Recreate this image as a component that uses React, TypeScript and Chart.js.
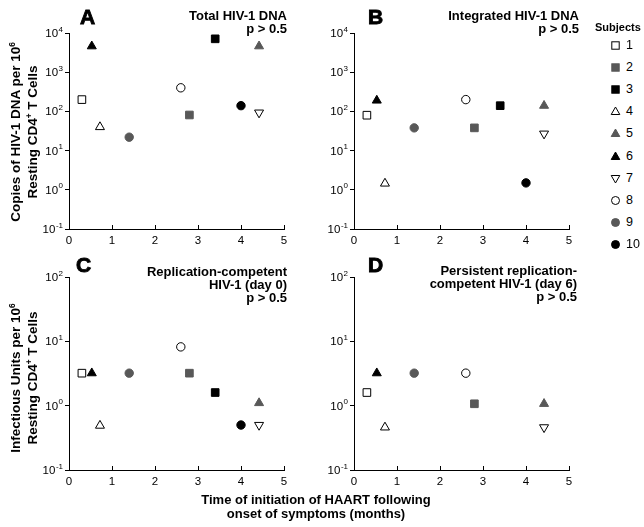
import React, { useEffect, useRef } from "react";
import { Chart, registerables } from "chart.js";

Chart.register(...registerables);

const FONT = "'Liberation Sans', Arial, Helvetica, sans-serif";

// ---- data ----
const subjectIds = ["1", "2", "3", "4", "5", "6", "7", "8", "9", "10"];
const onsetMonths = [0.3, 2.8, 3.4, 0.72, 4.42, 0.53, 4.42, 2.6, 1.4, 4.0];
const totalDna = [200, 81, 7100, 40, 4600, 4600, 93, 400, 22, 140];
const integratedDna = [80, 38, 140, 1.45, 140, 190, 27, 200, 38, 1.5];
const replicationDay0 = [3.2, 3.2, 1.6, 0.49, 1.1, 3.2, 0.5, 8.2, 3.2, 0.5];
const replicationDay6 = [1.6, 1.07, null, 0.46, 1.07, 3.2, 0.46, 3.2, 3.2, null];
const xTickValues = [0, 1, 2, 3, 4, 5];
const dnaDecades = [-1, 0, 1, 2, 3, 4];
const iuDecades = [-1, 0, 1, 2];

// ---- marker styles per subject ----
const GREY = "#585858";
const markerShape = ["rect", "rect", "rect", "triangle", "triangle", "triangle", "triangle", "circle", "circle", "circle"];
const markerRotation = [0, 0, 0, 0, 0, 0, 180, 0, 0, 0];
const markerFill = ["#ffffff", GREY, "#000000", "#ffffff", GREY, "#000000", "#ffffff", "#ffffff", GREY, "#000000"];
const markerStroke = ["#000000", GREY, "#000000", "#000000", GREY, "#000000", "#000000", "#000000", GREY, "#000000"];
const markerRadius = [5.4, 5.4, 5.4, 5.2, 5.2, 5.2, 5.2, 4.2, 4.2, 4.2];

const decadeLabels = {
  id: "decadeLabels",
  afterDraw(chart: any) {
    const ys = chart.scales.y;
    const ctx = chart.ctx;
    const right = chart.chartArea.left - 6;
    ctx.save();
    ctx.fillStyle = "#000";
    ctx.textAlign = "left";
    ctx.textBaseline = "alphabetic";
    ys.ticks.forEach((t: any) => {
      const exp = String(Math.round(Math.log10(t.value)));
      const py = ys.getPixelForValue(t.value);
      ctx.font = `8px ${FONT}`;
      const ew = ctx.measureText(exp).width;
      ctx.font = `11.5px ${FONT}`;
      const bw = ctx.measureText("10").width;
      ctx.fillText("10", right - ew - bw - 0.5, py + 4);
      ctx.font = `8px ${FONT}`;
      ctx.fillText(exp, right - ew, py - 1.5);
    });
    ctx.restore();
  },
};

type Pad = { left: number; top: number; right: number; bottom: number };

function makeConfig(values: (number | null)[], decades: number[], padding: Pad): any {
  const datasets = subjectIds.map((id, i) => ({
    label: id,
    data: values[i] == null ? [] : [{ x: onsetMonths[i], y: values[i] }],
    pointStyle: markerShape[i],
    rotation: markerRotation[i],
    pointRadius: markerRadius[i],
    backgroundColor: markerFill[i],
    borderColor: markerStroke[i],
    borderWidth: 1,
    showLine: false,
  }));
  return {
    type: "scatter",
    data: { datasets },
    options: {
      responsive: false,
      animation: false,
      devicePixelRatio: 1,
      layout: { padding },
      plugins: { legend: { display: false }, tooltip: { enabled: false }, title: { display: false } },
      scales: {
        x: {
          type: "linear",
          min: 0,
          max: 5,
          afterBuildTicks: (s: any) => {
            s.ticks = xTickValues.map((v) => ({ value: v }));
          },
          afterFit: (s: any) => {
            s.height = 20;
          },
          grid: { drawOnChartArea: false, drawTicks: true, tickLength: -4, tickColor: "#000", lineWidth: 1 },
          border: { display: true, color: "#000", width: 1 },
          ticks: { padding: 9, color: "#000", font: { family: FONT, size: 11.5 }, maxRotation: 0, autoSkip: false },
        },
        y: {
          type: "logarithmic",
          min: Math.pow(10, decades[0]),
          max: Math.pow(10, decades[decades.length - 1]),
          afterBuildTicks: (s: any) => {
            s.ticks = decades.map((d) => ({ value: Math.pow(10, d) }));
          },
          afterFit: (s: any) => {
            s.width = 20;
          },
          grid: { drawOnChartArea: false, drawTicks: true, tickLength: 4, tickColor: "#000", lineWidth: 1 },
          border: { display: true, color: "#000", width: 1 },
          ticks: { display: false },
        },
      },
    },
    plugins: [decadeLabels],
  };
}

function Panel(props: { values: (number | null)[]; decades: number[]; left: number; top: number; width: number; height: number; padding: Pad }) {
  const ref = useRef<HTMLCanvasElement | null>(null);
  useEffect(() => {
    if (!ref.current) return;
    const chart = new Chart(ref.current, makeConfig(props.values, props.decades, props.padding));
    return () => chart.destroy();
  }, []);
  return (
    <canvas
      ref={ref}
      width={props.width}
      height={props.height}
      style={{ position: "absolute", left: props.left, top: props.top, width: props.width, height: props.height }}
    />
  );
}

const sup = (t: string) => (
  <span style={{ fontSize: "0.62em", position: "relative", top: "-0.55em" }}>{t}</span>
);

function PanelTitle(props: { right: number; top: number; children: React.ReactNode }) {
  return (
    <div
      style={{
        position: "absolute",
        right: 644 - props.right,
        top: props.top,
        textAlign: "right",
        font: `bold 13px/13px ${FONT}`,
        whiteSpace: "nowrap",
      }}
    >
      {props.children}
    </div>
  );
}

function Letter(props: { left: number; top: number; text: string }) {
  return (
    <div
      style={{
        position: "absolute",
        left: props.left,
        top: props.top,
        font: `bold 21px/21px ${FONT}`,
        WebkitTextStroke: "0.9px #000",
      }}
    >
      {props.text}
    </div>
  );
}

function YTitle(props: { cx: number; cy: number; children: React.ReactNode }) {
  return (
    <div
      style={{
        position: "absolute",
        left: props.cx,
        top: props.cy,
        width: 240,
        textAlign: "center",
        font: `bold 13.5px/15px ${FONT}`,
        whiteSpace: "nowrap",
        transform: "translate(-50%, -50%) rotate(-90deg)",
      }}
    >
      {props.children}
    </div>
  );
}

function LegendMarker(props: { i: number }) {
  const i = props.i;
  const fill = markerFill[i];
  const stroke = markerStroke[i];
  let shape: React.ReactNode;
  if (markerShape[i] === "rect") {
    shape = <rect x={1.8} y={1.8} width={7.4} height={7.4} fill={fill} stroke={stroke} strokeWidth={1} />;
  } else if (markerShape[i] === "circle") {
    shape = <circle cx={5.5} cy={5.5} r={4} fill={fill} stroke={stroke} strokeWidth={1} />;
  } else if (markerRotation[i] === 180) {
    shape = <polygon points="1.2,2.5 9.8,2.5 5.5,10" fill={fill} stroke={stroke} strokeWidth={1} />;
  } else {
    shape = <polygon points="5.5,1 9.8,8.5 1.2,8.5" fill={fill} stroke={stroke} strokeWidth={1} />;
  }
  return (
    <svg width={11} height={11} style={{ position: "absolute", left: 0, top: 0 }}>
      {shape}
    </svg>
  );
}

export default function App() {
  return (
    <div
      style={{
        position: "absolute",
        left: 0,
        top: 0,
        width: 644,
        height: 527,
        overflow: "hidden",
        background: "#fff",
        color: "#000",
        fontFamily: FONT,
      }}
    >
      <Panel values={totalDna} decades={dnaDecades} left={0} top={0} width={322} height={256}
        padding={{ left: 49, top: 33, right: 38, bottom: 7 }} />
      <Panel values={integratedDna} decades={dnaDecades} left={322} top={0} width={262} height={256}
        padding={{ left: 12, top: 33, right: 15, bottom: 7 }} />
      <Panel values={replicationDay0} decades={iuDecades} left={0} top={256} width={322} height={238}
        padding={{ left: 49, top: 21, right: 38, bottom: 4 }} />
      <Panel values={replicationDay6} decades={iuDecades} left={322} top={256} width={262} height={238}
        padding={{ left: 12, top: 21, right: 15, bottom: 4 }} />

      <Letter left={80} top={6} text="A" />
      <Letter left={368} top={6} text="B" />
      <Letter left={76} top={254} text="C" />
      <Letter left={368} top={254} text="D" />

      <PanelTitle right={287} top={9}>
        Total HIV-1 DNA<br />p &gt; 0.5
      </PanelTitle>
      <PanelTitle right={579} top={9}>
        Integrated HIV-1 DNA<br />p &gt; 0.5
      </PanelTitle>
      <PanelTitle right={287} top={265}>
        Replication-competent<br />HIV-1 (day 0)<br />p &gt; 0.5
      </PanelTitle>
      <PanelTitle right={577} top={264}>
        Persistent replication-<br />competent HIV-1 (day 6)<br />p &gt; 0.5
      </PanelTitle>

      <YTitle cx={25} cy={132}>
        Copies of HIV-1 DNA per 10{sup("6")}<br />Resting CD4{sup("+")} T Cells
      </YTitle>
      <YTitle cx={25} cy={378}>
        Infectious Units per 10{sup("6")}<br />Resting CD4{sup("+")} T Cells
      </YTitle>

      <div
        style={{
          position: "absolute",
          left: 316,
          top: 493,
          transform: "translateX(-50%)",
          textAlign: "center",
          font: `bold 13px/14px ${FONT}`,
          whiteSpace: "nowrap",
        }}
      >
        Time of initiation of HAART following<br />onset of symptoms (months)
      </div>

      <div style={{ position: "absolute", left: 595, top: 21, font: `bold 11px/12px ${FONT}`, whiteSpace: "nowrap" }}>
        Subjects
      </div>
      {subjectIds.map((id, i) => {
        const cy = 45 + i * 22.2;
        return (
          <div key={id} style={{ position: "absolute", left: 609, top: cy - 6, width: 40, height: 12 }}>
            <div style={{ position: "absolute", left: 0.5, top: 0.5, width: 11, height: 11 }}>
              <LegendMarker i={i} />
            </div>
            <div style={{ position: "absolute", left: 17, top: -1.5, font: `12.5px/14px ${FONT}` }}>{id}</div>
          </div>
        );
      })}
    </div>
  );
}
